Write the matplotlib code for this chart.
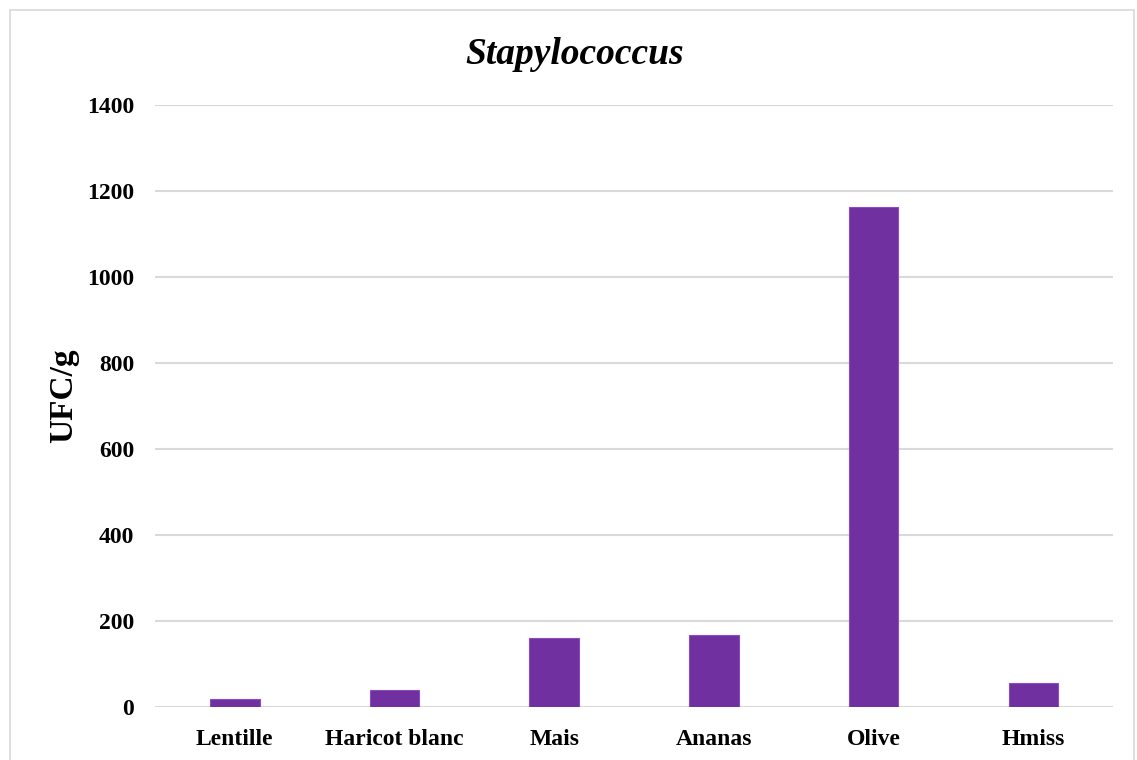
import matplotlib
matplotlib.use("Agg")
import matplotlib.pyplot as plt
from matplotlib.patches import Rectangle

categories = ["Lentille", "Haricot blanc", "Mais", "Ananas", "Olive", "Hmiss"]
ufc_values = [19, 40, 161, 168, 1164, 56]
y_ticks = [0, 200, 400, 600, 800, 1000, 1200, 1400]

plt.rcParams["font.family"] = ["Liberation Serif", "DejaVu Serif"]

fig = plt.figure(figsize=(11.37, 7.6), dpi=100)
ax = fig.add_axes([0.1363, 0.0697, 0.8427, 0.7921])

x = range(len(categories))
ax.bar(x, ufc_values, width=0.31, color="#7030A0", edgecolor="#8a4cc0",
       linewidth=0.8, zorder=3)

ax.set_xlim(-0.5, len(categories) - 0.5)
ax.set_ylim(0, 1400)
ax.set_yticks(y_ticks)
ax.set_yticklabels([str(v) for v in y_ticks], fontsize=17, fontweight="bold")
ax.set_xticks(list(x))
ax.set_xticklabels(categories, fontsize=17, fontweight="bold")
ax.tick_params(axis="both", length=0)
ax.tick_params(axis="y", pad=15)
ax.tick_params(axis="x", pad=16)

ax.grid(axis="y", color="#d9d9d9", linewidth=1.5, zorder=0)
for side in ["top", "right", "left", "bottom"]:
    ax.spines[side].set_visible(False)

ax.set_ylabel("UFC/g", fontsize=24, fontweight="bold")
ax.yaxis.set_label_coords(-0.079, 0.517)
fig.text(0.505, 0.928, "Stapylococcus", ha="center", va="center",
         fontsize=27, fontweight="bold", fontstyle="italic")

# light frame around the chart
fig.patches.append(Rectangle((10 / 1137, -0.01), 1124 / 1137, 0.997,
                             transform=fig.transFigure, fill=False,
                             edgecolor="#d9d9d9", linewidth=1.2))

fig.savefig("out.png", dpi=100)
